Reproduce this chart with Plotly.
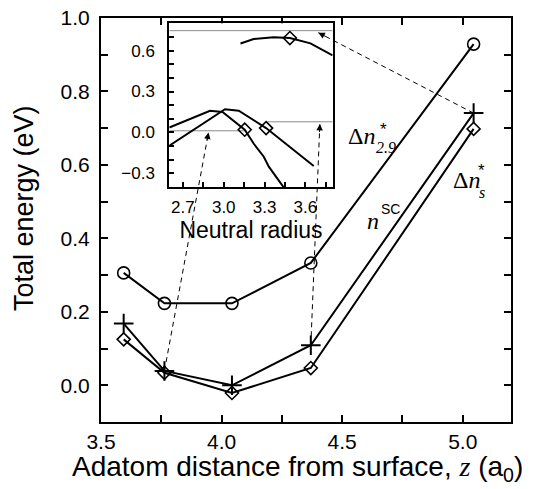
import plotly.graph_objects as go

# ---------------- data ----------------
z = [3.594, 3.763, 4.043, 4.370, 5.045]
E_dn29 = [0.306, 0.223, 0.223, 0.333, 0.929]   # circles
E_nsc = [0.168, 0.039, 0.000, 0.109, 0.741]    # plus
E_dns = [0.125, 0.034, -0.021, 0.047, 0.698]   # diamonds

# inset curves (neutral radius vs energy)
inA_x = [3.123, 3.220, 3.367, 3.486, 3.637, 3.723, 3.800]
inA_y = [0.652, 0.685, 0.697, 0.692, 0.653, 0.609, 0.564]
in1_x = [2.600, 2.899, 2.991, 3.154, 3.222, 3.294, 3.331, 3.460]
in1_y = [0.036, 0.159, 0.150, 0.020, -0.085, -0.178, -0.251, -0.430]
in2_x = [2.600, 3.009, 3.110, 3.311, 3.661]
in2_y = [-0.097, 0.170, 0.159, 0.032, -0.246]
inD_x = [3.154, 3.311, 3.486]
inD_y = [0.020, 0.032, 0.692]
# thin reference levels in inset
ref_y = [0.746, 0.078, 0.012]
ref_x0 = [2.600, 3.320, 2.600]
ref_x1 = [3.800, 3.800, 3.154]
# arrow heads inside the inset (inset coordinates), tails at the n^SC points
arr_src = [1, 3, 4]
arr_hx = [2.888, 3.706, 3.695]
arr_hy = [0.000, 0.062, 0.731]

# ---------------- layout constants ----------------
OFF = 8                      # default page body margin
W_FIG, H_FIG = 542 - OFF, 489 - OFF
ML, MR, MT, MB = 93, 31, 10, 67
PW, PH = W_FIG - ML - MR, H_FIG - MT - MB
MX = (3.5, 5.2)
MY = (-0.1, 1.0)
IX = (2.6, 3.8)
IY = (-0.4, 0.8)
DX = (0.1666, 0.565)
DY = (0.5817, 0.9869)

def inset_to_paper(xi, yi):
    return (DX[0] + (xi - IX[0]) / (IX[1] - IX[0]) * (DX[1] - DX[0]),
            DY[0] + (yi - IY[0]) / (IY[1] - IY[0]) * (DY[1] - DY[0]))

def main_to_paper(x, y):
    return ((x - MX[0]) / (MX[1] - MX[0]), (y - MY[0]) / (MY[1] - MY[0]))

def paper_to_pix(px, py):
    return ML + px * PW, MT + (1 - py) * PH

def pix_to_paper(X, Y):
    # X, Y: position on the page (screen pixels)
    return (X - OFF - ML) / PW, 1 - (Y - OFF - MT) / PH

fig = go.Figure()
LW = 2
fig.add_trace(go.Scatter(x=z, y=E_dn29, mode="lines+markers",
                         line=dict(color="black", width=LW),
                         marker=dict(symbol="circle-open", size=12, color="black", line=dict(width=1.6))))
fig.add_trace(go.Scatter(x=z, y=E_nsc, mode="lines+markers",
                         line=dict(color="black", width=LW),
                         marker=dict(symbol="cross-thin-open", size=14, color="black", line=dict(width=2))))
fig.add_trace(go.Scatter(x=z, y=E_dns, mode="lines+markers",
                         line=dict(color="black", width=LW),
                         marker=dict(symbol="diamond-open", size=10, color="black", line=dict(width=1.6))))

# inset traces
for i in range(len(ref_y)):
    fig.add_trace(go.Scatter(x=[ref_x0[i], ref_x1[i]], y=[ref_y[i], ref_y[i]], mode="lines",
                             line=dict(color="#8a8a8a", width=1), xaxis="x2", yaxis="y2"))
for xs, ys in [(inA_x, inA_y), (in1_x, in1_y), (in2_x, in2_y)]:
    fig.add_trace(go.Scatter(x=xs, y=ys, mode="lines", line=dict(color="black", width=LW),
                             xaxis="x2", yaxis="y2"))
fig.add_trace(go.Scatter(x=inD_x, y=inD_y, mode="markers", xaxis="x2", yaxis="y2",
                         marker=dict(symbol="diamond-open", size=10, color="black", line=dict(width=1.6))))

# dashed arrows from main points into inset (shapes in paper coords, drawn above)
shapes = []
annotations = []
for k, i in enumerate(arr_src):
    hx, hy = inset_to_paper(arr_hx[k], arr_hy[k])
    tx, ty = main_to_paper(z[i], E_nsc[i])
    shapes.append(dict(type="line", xref="paper", yref="paper", x0=tx, y0=ty, x1=hx, y1=hy,
                       line=dict(color="black", width=1, dash="5px,4px"), layer="above"))
    p_h = paper_to_pix(hx, hy)
    p_t = paper_to_pix(tx, ty)
    dx, dy = p_t[0] - p_h[0], p_t[1] - p_h[1]
    L = (dx * dx + dy * dy) ** 0.5
    annotations.append(dict(x=hx, y=hy, xref="paper", yref="paper", ax=dx / L * 10, ay=dy / L * 10,
                            text=" ", font=dict(size=1), showarrow=True, arrowhead=2, arrowsize=1.3,
                            arrowwidth=1, arrowcolor="black", standoff=0))

SERIF = "Liberation Serif, Times New Roman, serif"
SANS = "Liberation Sans, Arial, Helvetica, sans-serif"

def label(X, Y, text, size, family=SERIF, xanchor="left", angle=0):
    x, y = pix_to_paper(X, Y)
    annotations.append(dict(x=x, y=y, xref="paper", yref="paper", text=text, showarrow=False,
                            xanchor=xanchor, yanchor="middle", textangle=angle,
                            font=dict(family=family, size=size, color="black")))

label(346, 136, "Δ<i>n</i>", 24)
label(378, 129, "*", 17, SANS)
label(374, 147, "<i>2.9</i>", 16)
label(365, 221, "<i>n</i>", 24)
label(379, 209, "SC", 14, SANS)
label(451, 180, "Δ<i>n</i>", 24)
label(476, 170, "*", 17, SANS)
label(477, 193, "<i>s</i>", 16)
# axis titles
label(297, 468, "Adatom distance from surface, <i style='font-family:Liberation Serif'>z</i> (a<sub>0</sub>)",
      28, SANS, xanchor="center")
label(24, 208, "Total energy (eV)", 27, SANS, xanchor="center", angle=-90)

axis_common = dict(showline=True, linecolor="black", linewidth=2, ticks="inside",
                   tickcolor="black", showgrid=False, zeroline=False, automargin=False,
                   ticklabeloverflow="allow")

fig.update_layout(
    width=W_FIG, height=H_FIG,
    margin=dict(l=ML, r=MR, t=MT, b=MB, autoexpand=False),
    paper_bgcolor="white", plot_bgcolor="white",
    showlegend=False,
    font=dict(family=SANS, color="black"),
    xaxis=dict(range=list(MX), dtick=0.5, tick0=3.5, ticklen=7, tickwidth=1.5, mirror="ticks",
               minor=dict(dtick=0.25, ticks="inside", ticklen=7, tickwidth=1.5, tickcolor="black"),
               tickformat=".1f", tickfont=dict(size=21), ticklabelstandoff=0,
               **axis_common),
    yaxis=dict(range=list(MY), dtick=0.2, tick0=0, ticklen=7, tickwidth=1.5, mirror="ticks",
               minor=dict(dtick=0.1, ticks="inside", ticklen=7, tickwidth=1.5, tickcolor="black"),
               tickformat=".1f", tickfont=dict(size=21), ticklabelstandoff=5,
               **axis_common),
    xaxis2=dict(domain=list(DX), anchor="y2", range=list(IX), dtick=0.3, tick0=2.7, ticklen=5,
                tickwidth=1.5, mirror=True,
                minor=dict(dtick=0.15, ticks="inside", ticklen=5, tickwidth=1.5, tickcolor="black"),
                tickformat=".1f", tickfont=dict(size=17), ticklabelstandoff=4,
                title=dict(text="Neutral radius", font=dict(size=23), standoff=0),
                **axis_common),
    yaxis2=dict(domain=list(DY), anchor="x2", range=list(IY), dtick=0.3, tick0=0, ticklen=5,
                tickwidth=1.5, mirror=True,
                minor=dict(dtick=0.1, ticks="inside", ticklen=5, tickwidth=1.5, tickcolor="black"),
                tickformat=".1f", tickfont=dict(size=17), ticklabelstandoff=9,
                **axis_common),
    shapes=shapes,
    annotations=annotations,
)

fig.write_html("out.html")
